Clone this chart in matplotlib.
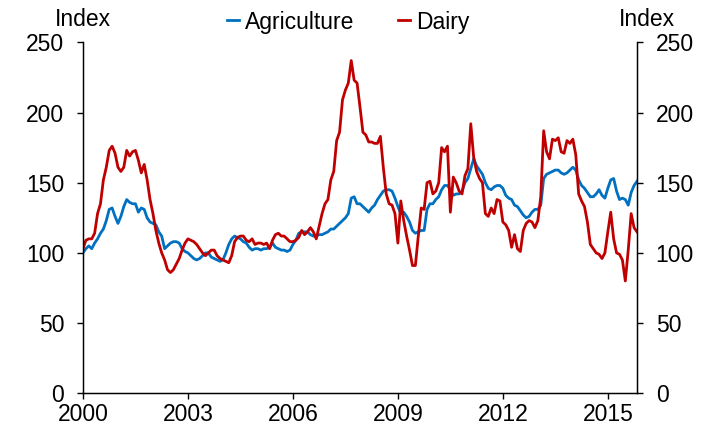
import numpy as np
import matplotlib
matplotlib.use("Agg")
import matplotlib.pyplot as plt

# Monthly index values, Jan 2000 - Nov 2015
START_YEAR = 2000
agriculture = [
    100, 103, 105, 103, 107, 110, 114, 117, 123, 131,
    132, 126, 121, 126, 133, 138, 136, 135, 135, 129,
    132, 131, 125, 122, 121, 120, 115, 112, 103, 105,
    107, 108, 108, 107, 103, 101, 100, 98, 96, 95,
    96, 98, 100, 100, 97, 96, 95, 94, 95, 100,
    106, 110, 112, 111, 110, 108, 107, 104, 102, 103,
    103, 102, 103, 103, 104, 107, 104, 103, 102, 102,
    101, 102, 106, 109, 114, 115, 115, 115, 113, 112,
    112, 113, 113, 114, 115, 117, 117, 119, 121, 123,
    125, 128, 139, 140, 135, 135, 133, 131, 129, 132,
    134, 138, 141, 144, 145, 145, 144, 139, 133, 128,
    129, 126, 122, 116, 114, 115, 116, 116, 131, 135,
    135, 138, 140, 145, 148, 148, 145, 141, 142, 142,
    144, 150, 153, 160, 167, 162, 159, 156, 150, 146,
    145, 147, 148, 148, 146, 141, 139, 138, 134, 133,
    130, 127, 125, 126, 129, 131, 131, 134, 153, 156,
    157, 158, 159, 159, 157, 156, 157, 159, 161, 159,
    152, 148, 146, 143, 140, 140, 142, 145, 141, 139,
    146, 152, 153, 144, 138, 139, 138, 134, 143, 148,
    151,
]
dairy = [
    103, 109, 110, 110, 114, 128, 135, 152, 161, 173,
    176, 171, 161, 158, 161, 173, 169, 172, 173, 166,
    157, 163, 152, 138, 128, 116, 107, 100, 95, 88,
    86, 88, 92, 96, 102, 107, 110, 109, 108, 106,
    103, 100, 98, 100, 102, 102, 98, 96, 95, 94,
    93, 98, 108, 111, 112, 112, 109, 108, 110, 106,
    107, 107, 106, 107, 103, 109, 113, 114, 112, 112,
    110, 108, 108, 109, 111, 116, 113, 115, 118, 115,
    110, 119, 128, 135, 138, 152, 158, 180, 186, 209,
    216, 221, 237, 223, 221, 204, 186, 184, 179, 179,
    178, 178, 183, 161, 142, 135, 134, 128, 107, 137,
    123, 112, 102, 91, 91, 112, 132, 131, 150, 151,
    142, 144, 150, 175, 172, 176, 129, 154, 150, 144,
    142, 155, 160, 192, 168, 158, 153, 150, 128, 126,
    132, 128, 138, 137, 122, 120, 116, 104, 113, 103,
    101, 116, 121, 123, 122, 118, 123, 140, 187, 172,
    167, 181, 180, 182, 172, 171, 180, 178, 181, 170,
    142, 137, 133, 122, 106, 103, 100, 99, 96, 100,
    115, 129, 110, 100, 99, 95, 80, 102, 128, 118,
    115,
]
year_ticks = [2000, 2003, 2006, 2009, 2012, 2015]
y_ticks = [0, 50, 100, 150, 200, 250]

BLUE = "#0070C0"
RED = "#C00000"

plt.rcParams["font.family"] = ["Liberation Sans", "DejaVu Sans"]
FS = 16.5

t = START_YEAR + np.arange(len(agriculture)) / 12.0

fig = plt.figure(figsize=(7.11, 4.29), dpi=100)
ax = fig.add_axes([0.1167, 0.0832, 0.7792, 0.8182])
ax.plot(t, agriculture, color=BLUE, lw=2.0, label="Agriculture")
ax.plot(t, dairy, color=RED, lw=2.0, label="Dairy")

ax.set_xlim(t[0], t[-1])
ax.set_ylim(0, 250)
ax.set_xticks(year_ticks)
ax.set_xticklabels([str(y) for y in year_ticks])
ax.set_yticks(y_ticks)
ax.spines["top"].set_visible(False)
for s in ("left", "right", "bottom"):
    ax.spines[s].set_linewidth(1.0)
ax.tick_params(axis="x", direction="out", length=4.5, width=1.0,
               labelsize=FS, pad=2.5)
ax.tick_params(axis="y", direction="out", length=4.5, width=1.0,
               labelsize=FS, pad=9)

ax2 = ax.twinx()
ax2.set_ylim(0, 250)
ax2.set_yticks(y_ticks)
ax2.spines["top"].set_visible(False)
ax2.tick_params(axis="y", direction="out", length=4.5, width=1.0,
                labelsize=FS, pad=9)

fig.text(83 / 711, 1 - 20 / 429, "Index", ha="center", va="center", fontsize=FS)
fig.text(647 / 711, 1 - 20 / 429, "Index", ha="center", va="center", fontsize=FS)

fig.legend(loc="center", bbox_to_anchor=(348 / 711, 1 - 22 / 429), ncol=2,
           frameon=False, fontsize=FS, handlelength=0.55, handletextpad=0.25,
           columnspacing=1.9)

fig.savefig("out.png", dpi=100)
